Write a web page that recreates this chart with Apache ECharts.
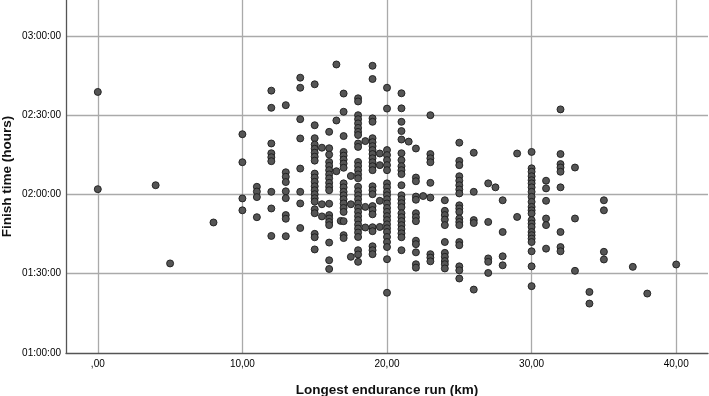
<!DOCTYPE html>
<html>
<head>
<meta charset="utf-8">
<script src="https://cdn.jsdelivr.net/npm/echarts@6/dist/echarts.min.js"></script>
<style>
  html, body { margin: 0; padding: 0; background: #fff; }
  #main { width: 709px; height: 396px; }
</style>
</head>
<body>
<div id="main"></div>
<script>
// longest endurance run (km), one entry per column of dots
const runKm = [0, 4, 5, 8, 10, 11, 12, 13, 14, 15, 15.5, 16, 16.5, 16.8, 17, 17.5, 18, 18.5, 19, 19.5,
  20, 21, 21.5, 22, 22.5, 23, 24, 25, 26, 27, 27.5, 28, 29, 30, 31, 32, 33, 34, 35, 37, 38, 40]

// finish times in minutes for each distance above
const finishMin = [
  [158.8, 122.0],
  [123.5],
  [93.9],
  [109.4],
  [142.8, 132.2, 118.5, 114.0],
  [122.9, 121.1, 119.0, 111.4],
  [159.3, 152.8, 139.3, 135.6, 134.1, 132.6, 121.0, 114.7, 104.3],
  [153.8, 128.4, 126.7, 124.7, 121.2, 118.6, 112.2, 110.8, 104.2],
  [164.2, 160.4, 148.5, 141.2, 129.8, 121.0, 116.6, 107.3],
  [161.7, 146.2, 141.3, 138.9, 137.3, 135.8, 134.3, 132.8, 127.9, 126.4, 124.8, 123.1, 121.6, 120.1,
    118.6, 117.3, 114.4, 112.9, 105.1, 103.8, 99.2],
  [137.7, 116.3, 111.7],
  [143.7, 137.5, 135.1, 132.3, 130.8, 129.2, 127.6, 126.1, 124.4, 122.9, 121.6, 116.5, 112.2, 110.9,
    109.6, 108.4, 101.8, 95.1, 91.8],
  [169.2, 148.0, 128.8],
  [110.0],
  [158.2, 151.3, 142.1, 136.1, 134.7, 133.2, 131.7, 130.1, 124.2, 122.7, 121.0, 119.7, 118.2, 116.6,
    114.9, 113.4, 109.9, 104.6, 103.5],
  [127.0, 116.3, 96.4],
  [156.4, 155.2, 150.0, 148.5, 146.9, 145.2, 143.7, 142.5, 139.3, 138.0, 132.3, 130.8, 129.2, 127.6,
    126.1, 122.9, 121.2, 119.7, 118.2, 116.6, 114.9, 113.4, 111.8, 110.3, 108.6, 107.1, 105.6, 103.9,
    98.9, 97.3, 94.5],
  [140.2, 115.3, 107.5],
  [168.7, 163.7, 148.8, 147.5, 141.3, 139.8, 138.3, 136.8, 135.3, 133.7, 132.2, 130.7, 129.2, 123.1,
    121.6, 120.1, 115.6, 114.1, 112.5, 107.6, 106.1, 100.4, 98.9, 97.4],
  [135.5, 131.1, 117.6, 107.7],
  [160.4, 152.5, 136.8, 134.9, 133.0, 131.1, 129.2, 124.2, 122.7, 121.0, 119.7, 118.2, 116.6, 114.9,
    113.4, 111.8, 110.3, 108.7, 107.2, 105.8, 103.9, 102.0, 100.1, 95.5, 82.8],
  [158.3, 152.6, 147.5, 144.0, 140.8, 135.6, 133.0, 130.7, 129.2, 127.7, 123.5, 119.7, 118.2, 116.7,
    115.2, 112.9, 111.4, 109.9, 108.4, 106.9, 105.3, 103.8, 98.9],
  [140.0],
  [137.4, 126.4, 125.0, 119.2, 118.0, 112.9, 111.4, 109.9, 102.5, 101.2, 98.1, 93.6, 92.3],
  [119.4],
  [150.0, 135.3, 133.7, 132.2, 124.4, 118.8, 97.4, 96.1, 94.7],
  [117.8, 113.8, 112.2, 110.5, 108.4, 102.0, 97.9, 96.4, 94.8, 93.6, 92.0],
  [139.6, 132.7, 131.1, 126.9, 125.2, 123.5, 121.9, 120.4, 115.9, 114.7, 113.4, 110.9, 109.6, 108.4,
    102.0, 100.8, 92.8, 91.3, 88.2],
  [135.8, 121.0, 110.3, 109.2, 84.0],
  [124.2, 109.6, 95.8, 94.5, 90.3],
  [122.7],
  [117.8, 105.8, 96.6, 93.2],
  [135.5, 111.5],
  [136.1, 129.9, 128.6, 126.9, 125.4, 124.2, 122.7, 121.0, 119.1, 117.2, 115.3, 114.0, 112.8, 110.3,
    109.0, 107.7, 105.8, 104.6, 103.3, 102.0, 98.5, 92.8, 85.3],
  [125.2, 122.3, 117.6, 110.9, 108.4, 99.5],
  [152.2, 135.3, 131.5, 130.2, 128.6, 122.7, 105.8, 100.1, 98.5],
  [130.2, 110.9, 91.1],
  [83.1, 78.7],
  [117.8, 114.0, 98.3, 95.4],
  [92.6],
  [82.5],
  [93.5]
]

const points = runKm.flatMap((km, i) => finishMin[i].map(t => [km, t]))

const pad = n => (n < 10 ? '0' : '') + n
const hms = v => {
  const total = Math.round(v * 60)
  return pad(Math.floor(total / 3600)) + ':' + pad(Math.floor(total % 3600 / 60)) + ':' + pad(total % 60)
}

const chart = echarts.init(document.getElementById('main'), null, {renderer: 'canvas'})
chart.setOption({
  backgroundColor: '#ffffff',
  animation: false,
  grid: {
    left: 66,
    right: 1,
    top: 0,
    bottom: 43,
    outerBoundsMode: 'none'
  },
  xAxis: {
    type: 'value',
    min: -2.2,
    max: 42.2,
    name: 'Longest endurance run (km)',
    nameLocation: 'middle',
    nameGap: 30,
    nameMoveOverlap: false,
    nameTextStyle: {
      color: '#111',
      fontSize: 13.5,
      fontWeight: 'bold',
      fontFamily: 'Liberation Sans'
    },
    axisLine: {onZero: false, lineStyle: {color: '#555', width: 1.3}},
    axisTick: {show: false},
    axisLabel: {
      margin: 6,
      color: '#000',
      fontSize: 10,
      fontFamily: 'Liberation Sans',
      showMinLabel: false,
      showMaxLabel: false,
      formatter: v => (v % 10 !== 0 ? '' : (v === 0 ? ',00' : v.toFixed(2).replace('.', ',')))
    },
    splitLine: {show: true, showMinLine: false, showMaxLine: false, lineStyle: {color: '#aaa', width: 1.3}}
  },
  yAxis: {
    type: 'value',
    min: 60,
    max: 193.6,
    interval: 30,
    name: 'Finish time (hours)',
    nameLocation: 'middle',
    nameGap: 52,
    nameMoveOverlap: false,
    nameTextStyle: {
      color: '#111',
      fontSize: 13.5,
      fontWeight: 'bold',
      fontFamily: 'Liberation Sans'
    },
    axisLine: {show: true, onZero: false, lineStyle: {color: '#555', width: 1.3}},
    axisTick: {show: false},
    axisLabel: {
      margin: 5,
      color: '#000',
      fontSize: 10,
      fontFamily: 'Liberation Sans',
      showMaxLabel: false,
      formatter: v => (v % 30 !== 0 ? '' : hms(v))
    },
    splitLine: {show: true, showMinLine: false, showMaxLine: false, lineStyle: {color: '#aaa', width: 1.3}}
  },
  series: [
    {
      type: 'scatter',
      data: points,
      symbolSize: 7,
      itemStyle: {
        color: '#555555',
        borderColor: '#1c1c1c',
        borderWidth: 0.9,
        opacity: 1
      }
    }
  ]
})
</script>
</body>
</html>
